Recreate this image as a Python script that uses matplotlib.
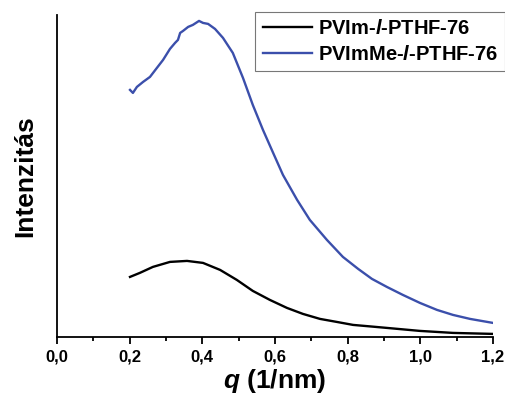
import numpy as np
import matplotlib.pyplot as plt
from matplotlib.ticker import MultipleLocator, FuncFormatter

plt.rcParams['font.family'] = ['Liberation Sans', 'DejaVu Sans']
plt.rcParams['font.weight'] = 'bold'
plt.rcParams['mathtext.fontset'] = 'custom'
plt.rcParams['mathtext.it'] = 'Liberation Sans:italic:bold'
plt.rcParams['mathtext.rm'] = 'Liberation Sans:bold'

# PVImMe-l-PTHF-76 (kék)
q_blue = [0.201, 0.209, 0.220, 0.237, 0.256, 0.275, 0.292, 0.311, 0.325, 0.333,
          0.339, 0.347, 0.361, 0.374, 0.391, 0.402, 0.416, 0.435, 0.457, 0.484,
          0.512, 0.539, 0.567, 0.595, 0.622, 0.661, 0.696, 0.743, 0.787, 0.829,
          0.867, 0.908, 0.952, 0.999, 1.046, 1.090, 1.137, 1.2]
i_blue = [248, 245, 251, 256, 261, 270, 278, 289, 295, 298,
          305, 307, 311, 313, 317, 315, 314, 309, 300, 285,
          260, 233, 208, 185, 163, 138, 118, 98, 81, 69,
          59, 51, 43, 35, 28, 23, 19, 15]

# PVIm-l-PTHF-76 (fekete)
q_black = [0.201, 0.228, 0.264, 0.311, 0.358, 0.402, 0.449, 0.495, 0.539, 0.586,
           0.633, 0.677, 0.724, 0.770, 0.815, 0.862, 0.908, 0.999, 1.090, 1.2]
i_black = [61, 65, 71, 76, 77, 75, 68, 58, 47, 38,
           30, 24, 19, 16, 13, 11.5, 10, 7, 5, 4]

labels = [r'PVIm-$\mathit{l}$-PTHF-76', r'PVImMe-$\mathit{l}$-PTHF-76']

fig = plt.figure(figsize=(5.06, 4.03), dpi=100)
ax = fig.add_axes([0.1126, 0.164, 0.8616, 0.799])

ax.plot(q_black, i_black, color='black', lw=1.7, label=labels[0])
ax.plot(q_blue, i_blue, color='#3b4fab', lw=1.7, label=labels[1])

ax.set_xlim(0, 1.2)
ax.set_ylim(1, 323)
ax.spines['top'].set_visible(False)
ax.spines['right'].set_visible(False)
ax.spines['left'].set_linewidth(1.3)
ax.spines['bottom'].set_linewidth(1.3)
ax.set_yticks([])

ax.xaxis.set_major_locator(MultipleLocator(0.2))
ax.xaxis.set_minor_locator(MultipleLocator(0.1))
ax.xaxis.set_major_formatter(FuncFormatter(lambda v, p: f'{v:.1f}'.replace('.', ',')))
ax.tick_params(axis='x', which='major', length=5, width=1.3, labelsize=12, pad=4)
ax.tick_params(axis='x', which='minor', length=3, width=1.3)

ax.set_xlabel(r'$q$ (1/nm)', fontsize=19, fontweight='bold', labelpad=2)
ax.set_ylabel('Intenzitás', fontsize=19, fontweight='bold', labelpad=14)

leg = ax.legend(loc='upper right', bbox_to_anchor=(1.028, 1.009), borderaxespad=0,
                fontsize=14.5, fancybox=False, framealpha=1, edgecolor='#777777',
                handlelength=2.45, handletextpad=0.3, borderpad=0.35,
                labelspacing=0.35)
leg.get_frame().set_linewidth(0.8)

fig.savefig('out.png', dpi=100)
